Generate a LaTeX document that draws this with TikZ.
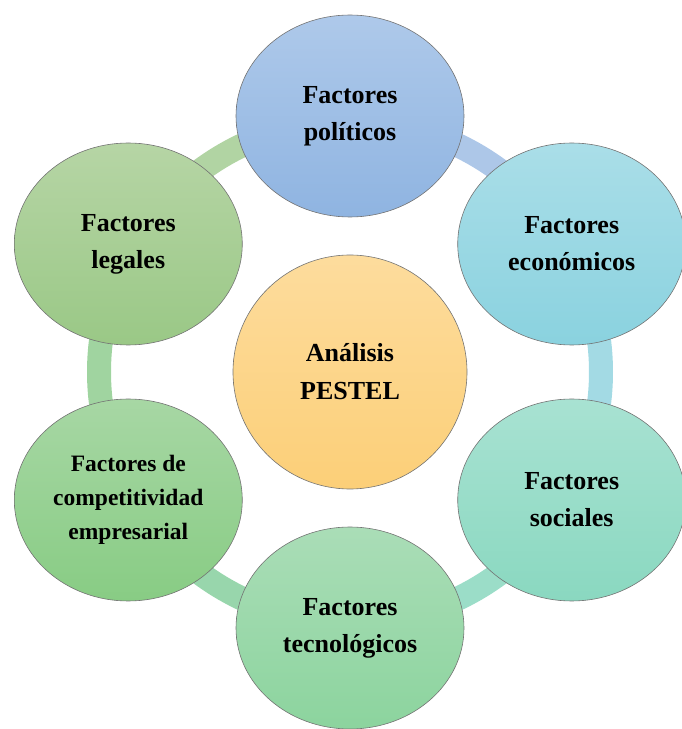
\documentclass[tikz,border=0pt]{standalone}
\usepackage{fontspec}
\setmainfont{Liberation Serif}
\usetikzlibrary{shapes.geometric,calc}
\definecolor{polT}{RGB}{174,201,234}
\definecolor{polB}{RGB}{143,180,225}
\definecolor{ecoT}{RGB}{170,222,232}
\definecolor{ecoB}{RGB}{138,210,223}
\definecolor{socT}{RGB}{168,226,210}
\definecolor{socB}{RGB}{138,216,192}
\definecolor{tecT}{RGB}{170,221,183}
\definecolor{tecB}{RGB}{140,212,158}
\definecolor{comT}{RGB}{167,215,164}
\definecolor{comB}{RGB}{136,204,132}
\definecolor{legT}{RGB}{182,213,165}
\definecolor{legB}{RGB}{154,200,134}
\definecolor{cenT}{RGB}{253,220,157}
\definecolor{cenB}{RGB}{252,207,120}
\definecolor{rA}{RGB}{177,212,163}
\definecolor{rB}{RGB}{173,199,232}
\definecolor{rC}{RGB}{163,218,228}
\definecolor{rD}{RGB}{155,221,200}
\definecolor{rE}{RGB}{152,214,172}
\definecolor{rF}{RGB}{160,212,160}
\begin{document}
\begin{tikzpicture}[x=1pt,y=1pt,
  bub/.style={ellipse, minimum width=228, minimum height=202, inner sep=0pt,
    draw=black!55, line width=0.6pt, align=center,
    font=\fontsize{26}{37}\selectfont\bfseries},
  ringseg/.style={line width=24pt}]
\useasboundingbox (0,0) rectangle (682,729);
\coordinate (c) at (350,357);
\foreach \a/\b/\col in {90/150/rA, 30/90/rB, -30/30/rC, -90/-30/rD, -150/-90/rE, 150/210/rF}
  \draw[ringseg, \col] ($(c)+(\a:251)$) arc[start angle=\a, end angle=\b, radius=251];
\node[bub, top color=polT, bottom color=polB] (pol) at ($(c)+(90:256)$) {Factores\\políticos};
\node[bub, top color=ecoT, bottom color=ecoB] (eco) at ($(c)+(30:256)$) {Factores\\económicos};
\node[bub, top color=socT, bottom color=socB] (soc) at ($(c)+(-30:256)$) {Factores\\sociales};
\node[bub, top color=tecT, bottom color=tecB] (tec) at ($(c)+(-90:256)$) {Factores\\tecnológicos};
\node[bub, top color=comT, bottom color=comB, font=\fontsize{23.5}{34}\selectfont\bfseries] (com) at ($(c)+(-150:256)$) {Factores de\\competitividad\\empresarial};
\node[bub, top color=legT, bottom color=legB] (leg) at ($(c)+(150:256)$) {Factores\\legales};
\node[circle, minimum size=234, inner sep=0pt, draw=black!55, line width=0.6pt,
  top color=cenT, bottom color=cenB, align=center,
  font=\fontsize{26}{38}\selectfont\bfseries] (cen) at (c) {Análisis\\PESTEL};
\end{tikzpicture}
\end{document}
